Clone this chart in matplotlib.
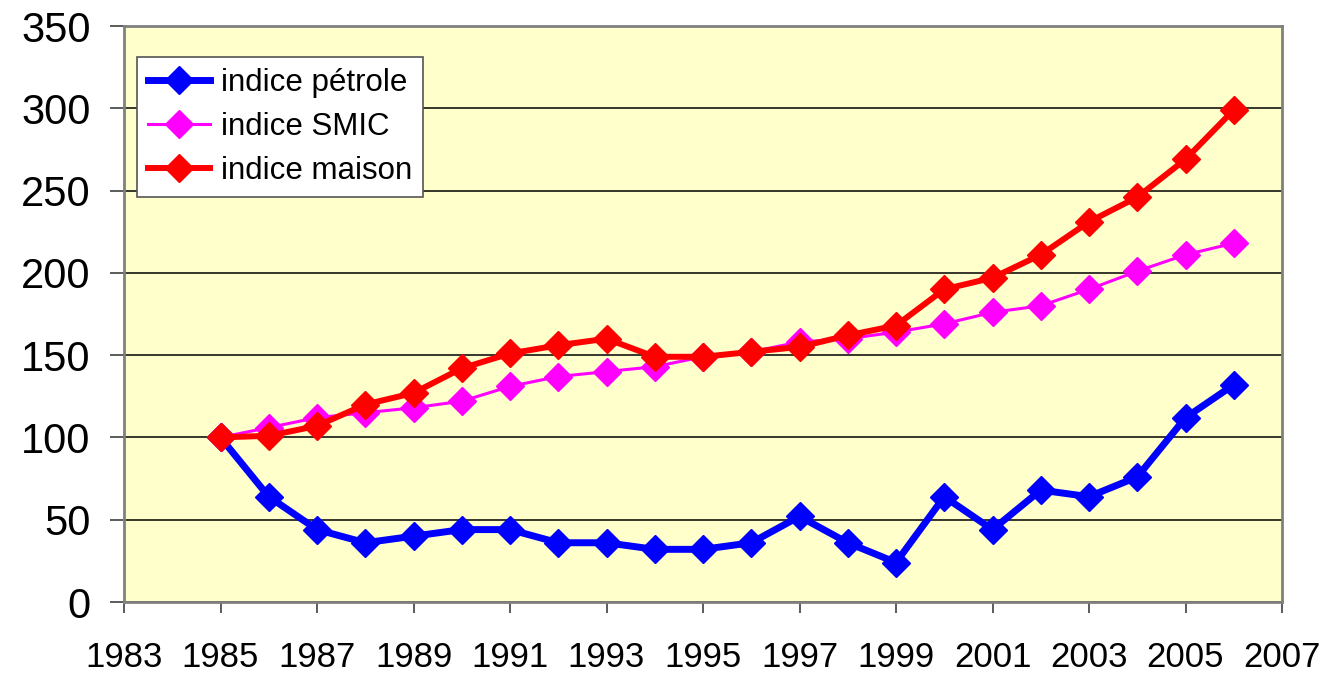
import matplotlib.pyplot as plt
from matplotlib import font_manager

plt.rcParams['font.family'] = ['Liberation Sans', 'DejaVu Sans']

# data
years = list(range(1985, 2007))
petrole = [100, 64, 44, 36, 40, 44, 44, 36, 36, 32, 32, 36,
           52, 36, 24, 64, 44, 68, 64, 76, 112, 132]
smic = [100, 106, 112, 115, 118, 122, 131, 137, 140, 143, 149, 152,
        158, 160, 164, 169, 176, 180, 190, 201, 211, 218]
maison = [100, 101, 107, 120, 127, 142, 151, 156, 160, 149, 149, 152,
          155, 162, 168, 190, 197, 211, 231, 246, 269, 299]
xticks = list(range(1983, 2008, 2))
yticks = list(range(0, 351, 50))

names = {f.name for f in font_manager.fontManager.ttflist}
narrow = 'Liberation Sans Narrow' if 'Liberation Sans Narrow' in names else 'Liberation Sans'
print(narrow)

fig = plt.figure(figsize=(13.3, 6.79), dpi=100)
ax = fig.add_axes([124 / 1330, 1 - 602 / 679, 1158 / 1330, 576 / 679])
ax.set_facecolor('#FFFFCC')

ax.plot(years, petrole, color='#0000FF', lw=5, marker='D', ms=14,
        label='indice pétrole', zorder=3)
ax.plot(years, smic, color='#FF00FF', lw=2.2, marker='D', ms=14,
        label='indice SMIC', zorder=3)
ax.plot(years, maison, color='#FF0000', lw=4.3, marker='D', ms=14,
        label='indice maison', zorder=4)

ax.set_xlim(1983, 2007)
ax.set_ylim(0, 350)
ax.set_xticks(xticks)
ax.set_yticks(yticks)
ax.grid(axis='y', color='black', lw=1.1, zorder=1)

for s in ax.spines.values():
    s.set_color('#808080')
    s.set_linewidth(2)

ax.tick_params(axis='y', direction='out', length=10, width=1.2,
               color='#404040', labelsize=30, pad=14)
ax.tick_params(axis='x', direction='out', length=8, width=1.2,
               color='#404040', labelsize=25, pad=20)
for lab in ax.get_xticklabels():
    lab.set_family([narrow, 'DejaVu Sans'])

leg = ax.legend(loc='upper left', bbox_to_anchor=(0.011, 0.946),
                fontsize=22.5, frameon=True, fancybox=False, framealpha=1,
                handlelength=2.0, borderpad=0.35, labelspacing=0.45,
                handletextpad=0.35, borderaxespad=0)
leg.get_frame().set_edgecolor('#555555')
leg.get_frame().set_linewidth(1.2)

plt.savefig('out.png', dpi=100)
